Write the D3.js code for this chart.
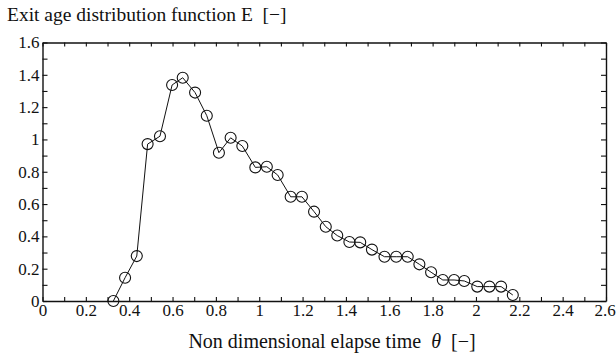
<!DOCTYPE html>
<html>
<head>
<meta charset="utf-8">
<script src="https://cdn.jsdelivr.net/npm/d3@7"></script>
<style>
    body { margin: 0; background: #fff; }
    svg { display: block; }
    text { white-space: pre; fill: #111; }
</style>
</head>
<body>
<svg width="616" height="356"></svg>
<script>
// Non dimensional elapse time (theta)
var theta = [0.327, 0.381, 0.435, 0.485, 0.542, 0.598, 0.647, 0.704, 0.758, 0.814,
    0.868, 0.922, 0.982, 1.035, 1.085, 1.145, 1.197, 1.253, 1.307, 1.36,
    1.416, 1.466, 1.52, 1.578, 1.632, 1.685, 1.739, 1.793, 1.847, 1.899,
    1.946, 2.006, 2.062, 2.116, 2.17];
// Exit age distribution E at each theta
var exitAge = [0.0, 0.144, 0.278, 0.971, 1.02, 1.337, 1.382, 1.29, 1.147, 0.918,
    1.01, 0.959, 0.827, 0.831, 0.78, 0.645, 0.645, 0.553, 0.46, 0.405,
    0.365, 0.363, 0.318, 0.274, 0.274, 0.274, 0.227, 0.178, 0.13, 0.13,
    0.124, 0.089, 0.089, 0.089, 0.037];

// tick values every 0.1, labels on every second one
var xTicks = d3.range(0, 27).map(function(i) { return i / 10; });
var yTicks = d3.range(0, 17).map(function(i) { return i / 10; });
var xTickLabels = ['0', '0.2', '0.4', '0.6', '0.8', '1', '1.2', '1.4', '1.6', '1.8', '2', '2.2', '2.4', '2.6'];
var yTickLabels = ['0', '0.2', '0.4', '0.6', '0.8', '1', '1.2', '1.4', '1.6'];

var serif = "'Liberation Serif', 'Times New Roman', 'DejaVu Serif', serif";

var svg = d3.select('svg');

var frame = {l: 42.5, r: 606, t: 42.5, b: 301};

var x = d3.scaleLinear().domain([0, 2.6]).range([frame.l, frame.r]);
var y = d3.scaleLinear().domain([0, 1.6]).range([frame.b, frame.t]);

function xLabel(d, i) { return i % 2 === 0 ? xTickLabels[i / 2] : ''; }
function yLabel(d, i) { return i % 2 === 0 ? yTickLabels[i / 2] : ''; }

// d3 axes put sans-serif on the group, swap it for the serif
var axisStyle = function(g) {
    g.attr('font-family', serif).attr('font-size', 17);
    g.selectAll('.domain').attr('stroke', '#111').attr('stroke-width', 1.4);
    g.selectAll('.tick line').attr('stroke', '#111').attr('stroke-width', 1.1);
    g.selectAll('text').attr('fill', '#111');
};

var xAxisG = svg.append('g')
    .attr('transform', 'translate(0,' + frame.b + ')')
    .call(d3.axisBottom(x).tickValues(xTicks).tickFormat(xLabel).tickSize(-4).tickSizeOuter(0).tickPadding(3))
    .call(axisStyle);
// keep the last label inside the page
xAxisG.selectAll('.tick:last-of-type text').attr('dx', -1.5);

svg.append('g')
    .attr('transform', 'translate(0,' + frame.t + ')')
    .call(d3.axisTop(x).tickValues(xTicks).tickFormat('').tickSize(-4).tickSizeOuter(0))
    .call(axisStyle);

svg.append('g')
    .attr('transform', 'translate(' + frame.l + ',0)')
    .call(d3.axisLeft(y).tickValues(yTicks).tickFormat(yLabel).tickSize(-5).tickSizeOuter(0).tickPadding(3))
    .call(axisStyle);

svg.append('g')
    .attr('transform', 'translate(' + frame.r + ',0)')
    .call(d3.axisRight(y).tickValues(yTicks).tickFormat('').tickSize(-5).tickSizeOuter(0))
    .call(axisStyle);

var pts = theta.map(function(t, i) { return [t, exitAge[i]]; });

svg.append('path')
    .datum(pts)
    .attr('fill', 'none')
    .attr('stroke', '#111')
    .attr('stroke-width', 1)
    .attr('d', d3.line().x(function(d) { return x(d[0]); }).y(function(d) { return y(d[1]); }));

svg.selectAll('.marker')
    .data(pts)
    .enter().append('circle')
    .attr('class', 'marker')
    .attr('cx', function(d) { return x(d[0]); })
    .attr('cy', function(d) { return y(d[1]); })
    .attr('r', 5.5)
    .attr('fill', 'none')
    .attr('stroke', '#111')
    .attr('stroke-width', 1.1);

svg.append('text')
    .attr('x', 7)
    .attr('y', 21)
    .attr('font-family', serif)
    .attr('font-size', 19.5)
    .text('Exit age distribution function E  [\u2212]');

var xl = svg.append('text')
    .attr('x', 332)
    .attr('y', 348)
    .attr('text-anchor', 'middle')
    .attr('font-family', serif)
    .attr('font-size', 20);
xl.append('tspan').text('Non dimensional elapse time  ');
xl.append('tspan').attr('font-style', 'italic').text('\u03b8');
xl.append('tspan').text('  [\u2212]');
</script>
</body>
</html>
